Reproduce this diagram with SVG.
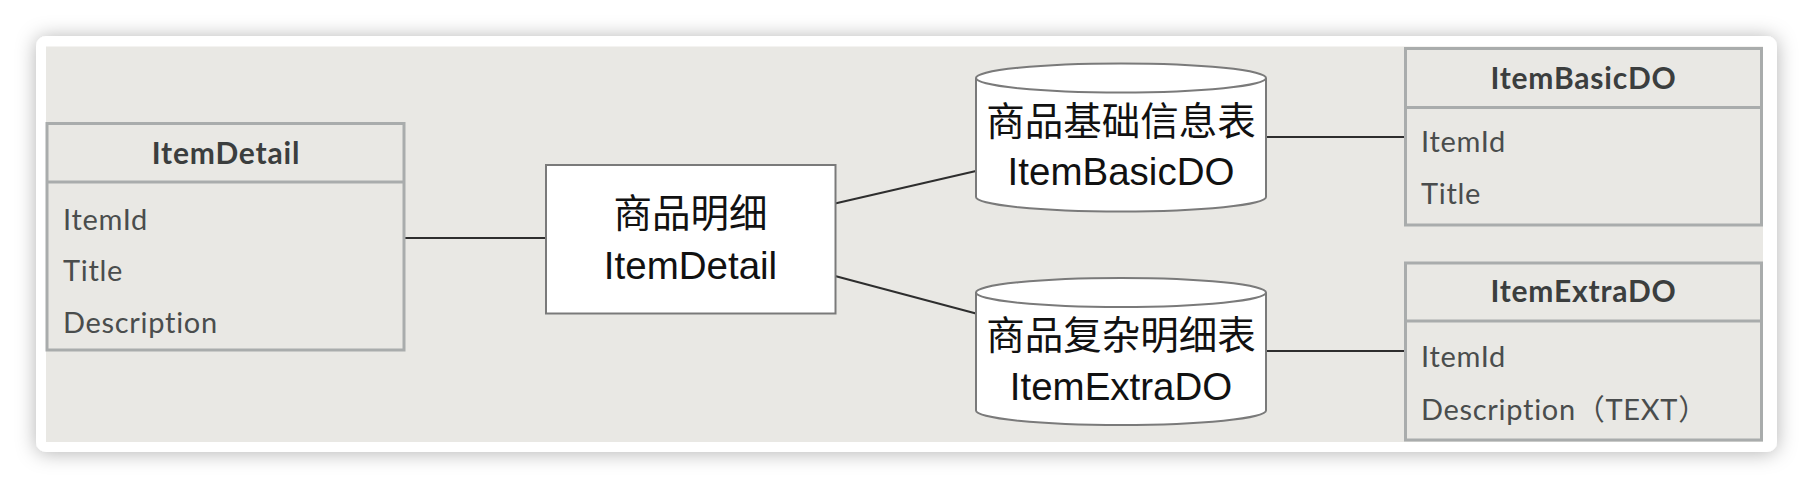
<svg xmlns="http://www.w3.org/2000/svg" width="1814" height="488" viewBox="0 0 1814 488">
  <defs>
    <filter id="shadow" x="-5%" y="-25%" width="110%" height="150%">
      <feDropShadow dx="0" dy="1" stdDeviation="10" flood-color="#000" flood-opacity="0.3"/>
    </filter>
  </defs>
  <style>
    .tbl { fill: #E9E8E4; stroke: #A9ACAC; stroke-width: 3; }
    .div { stroke: #A9ACAC; stroke-width: 3; }
    .hdr { font-family: Lato, "Open Sans", sans-serif; font-weight: bold; font-size: 30px; letter-spacing: 0.8px; fill: #3B3E3E; text-anchor: middle; }
    .row { font-family: Lato, "Open Sans", sans-serif; font-size: 29px; letter-spacing: 0.7px; fill: #4A4D4D; }
    .shape { fill: #FFFFFF; stroke: #7A7A7A; stroke-width: 2; }
    .lbl { font-family: "Liberation Sans", "Noto Sans CJK SC", sans-serif; font-size: 38.5px; fill: #111111; text-anchor: middle; }
    .conn { stroke: #2E2E2E; stroke-width: 2.2; fill: none; }
  </style>
  <rect x="0" y="0" width="1814" height="488" fill="#FFFFFF"/>
  <g id="card">
    <rect x="36" y="36" width="1741" height="416" rx="10" ry="10" fill="#FFFFFF" filter="url(#shadow)"/>
    <rect x="46" y="46.5" width="1717" height="395.5" fill="#E9E8E4"/>
  </g>

  <g id="connectors">
    <line class="conn" x1="404" y1="238" x2="546" y2="238"/>
    <line class="conn" x1="835" y1="203.5" x2="976" y2="171"/>
    <line class="conn" x1="835" y1="276" x2="976" y2="313.5"/>
    <line class="conn" x1="1266" y1="137" x2="1406" y2="137"/>
    <line class="conn" x1="1266" y1="351" x2="1406" y2="351"/>
  </g>

  <g id="table-itemdetail">
    <rect class="tbl" x="47" y="123.5" width="357" height="226.5"/>
    <line class="div" x1="47" y1="182" x2="404" y2="182"/>
    <text class="hdr" x="226" y="164">ItemDetail</text>
    <text class="row" x="63" y="229.5">ItemId</text>
    <text class="row" x="63" y="281">Title</text>
    <text class="row" x="63" y="333">Description</text>
  </g>

  <g id="node-itemdetail">
    <rect class="shape" x="546" y="165" width="289.5" height="148.5"/>
    <text class="lbl" x="690.5" y="227">商品明细</text>
    <text class="lbl" x="690.5" y="278.5">ItemDetail</text>
  </g>

  <g id="db-basic">
    <path class="shape" d="M976 78 L976 197 A145 14.5 0 0 0 1266 197 L1266 78"/>
    <ellipse class="shape" cx="1121" cy="78" rx="145" ry="14.5"/>
    <text class="lbl" x="1121" y="134.5">商品基础信息表</text>
    <text class="lbl" x="1121" y="185">ItemBasicDO</text>
  </g>

  <g id="db-extra">
    <path class="shape" d="M976 292.5 L976 410.5 A145 14.5 0 0 0 1266 410.5 L1266 292.5"/>
    <ellipse class="shape" cx="1121" cy="292.5" rx="145" ry="14.5"/>
    <text class="lbl" x="1121" y="348.5">商品复杂明细表</text>
    <text class="lbl" x="1121" y="400">ItemExtraDO</text>
  </g>

  <g id="table-itembasicdo">
    <rect class="tbl" x="1405.5" y="48.5" width="356" height="176.5"/>
    <line class="div" x1="1405.5" y1="107.5" x2="1761.5" y2="107.5"/>
    <text class="hdr" x="1583.5" y="88.5">ItemBasicDO</text>
    <text class="row" x="1421" y="152">ItemId</text>
    <text class="row" x="1421" y="203.5">Title</text>
  </g>

  <g id="table-itemextrado">
    <rect class="tbl" x="1405.5" y="263" width="356" height="177"/>
    <line class="div" x1="1405.5" y1="321" x2="1761.5" y2="321"/>
    <text class="hdr" x="1583.5" y="302">ItemExtraDO</text>
    <text class="row" x="1421" y="367">ItemId</text>
    <text class="row" x="1421" y="420">Description<tspan font-family="'Noto Sans CJK SC', sans-serif">（</tspan>TEXT<tspan font-family="'Noto Sans CJK SC', sans-serif">）</tspan></text>
  </g>
</svg>
